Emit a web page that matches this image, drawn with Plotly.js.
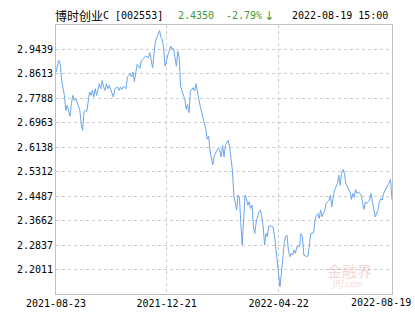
<!DOCTYPE html>
<html>
<head>
<meta charset="utf-8">
<script src="https://cdn.plot.ly/plotly-3.0.1.min.js"></script>
<style>html,body{margin:0;padding:0;background:#fff;}#chart{width:415px;height:330px;}</style>
</head>
<body>
<div id="chart"></div>
<script>
// trading-day index since 2021-08-23 (0 .. 240 = 2022-08-19)
var days = [0,2,3,4,6,7,8,10,11,12,13,14,15,16,17,18,19,20,21,22,23,24,25,26,27,28,29,30,31,32,33,34,35,36,37,38,40,41,42,44,45,46,47,48,50,51,52,53,54,55,56,58,60,61,62,64,65,66,67,69,70,71,72,74,75,76,77,78,80,81,82,83,84,86,87,88,89,90,91,92,93,94,95,96,98,99,100,101,102,103,105,106,107,108,109,110,111,112,113,114,115,116,117,118,119,120,121,123,124,125,126,127,128,129,130,131,132,133,134,135,136,137,138,139,140,141,142,143,145,146,147,148,149,150,151,152,154,155,156,157,158,159,160,161,162,163,164,165,166,167,168,169,170,171,172,174,175,176,177,179,180,181,182,184,185,186,187,188,189,190,192,193,195,196,197,198,199,201,202,203,204,205,206,207,208,210,211,212,213,214,215,216,218,219,220,221,222,224,225,226,227,228,230,231,232,233,234,236,237,238,239,240];
var nav = [2.8674,2.9068,2.8967,2.8395,2.7889,2.7384,2.7553,2.7182,2.7620,2.7889,2.7721,2.7788,2.7664,2.7495,2.7384,2.6946,2.6710,2.7327,2.7384,2.7351,2.7664,2.8001,2.7889,2.8058,2.7832,2.8115,2.7889,2.8081,2.8284,2.8115,2.8395,2.8169,2.8058,2.8284,2.8115,2.8226,2.8001,2.7832,2.8115,2.8169,2.8058,2.8169,2.8081,2.8193,2.8115,2.8506,2.8563,2.8620,2.8506,2.8674,2.8361,2.8934,2.8799,2.9068,2.9102,2.9213,2.9193,2.9159,2.9328,2.8823,2.9271,2.9719,2.9833,3.0079,2.9833,2.9776,2.9382,2.8876,2.9271,2.9382,2.9550,2.9439,2.9473,2.8876,2.9382,2.9159,2.8203,2.8034,2.7923,2.7755,2.7418,2.7586,2.7307,2.8034,2.8149,2.8034,2.8284,2.7923,2.7755,2.7529,2.7138,2.6913,2.6744,2.6407,2.6518,2.6013,2.5791,2.5548,2.5845,2.5969,2.6037,2.6104,2.6037,2.5811,2.6205,2.5811,2.6205,2.6374,2.6148,2.5757,2.5363,2.4521,2.4184,2.4016,2.4521,2.4464,2.3568,2.2837,2.3679,2.4521,2.4410,2.4184,2.4295,2.4073,2.4184,2.3453,2.3231,2.3621,2.3958,2.4016,2.3790,2.3453,2.2837,2.3231,2.3116,2.3477,2.3477,2.3453,2.3173,2.2779,2.2389,2.1994,2.1432,2.1883,2.2557,2.2894,2.3116,2.3173,2.2668,2.2442,2.2557,2.2500,2.2668,2.2557,2.2769,2.2793,2.3231,2.3116,2.2500,2.2442,2.2466,2.2894,2.3231,2.3251,2.3679,2.3847,2.3904,2.3736,2.4016,2.3790,2.4016,2.4241,2.4352,2.4521,2.4127,2.4464,2.4689,2.4915,2.5195,2.4858,2.5252,2.5387,2.5252,2.4915,2.4800,2.4632,2.4376,2.4578,2.4443,2.4713,2.4578,2.4632,2.4521,2.4295,2.4039,2.4295,2.4241,2.4352,2.4578,2.4295,2.4016,2.3790,2.4016,2.4295,2.4410,2.4352,2.4578,2.4747,2.4858,2.4920,2.5049,2.4350];

var xTickDays = [0, 79, 159];
var xTickLabels = ['2021-08-23', '2021-12-21', '2022-04-22'];
var lastDay = 240;
var lastLabel = '2022-08-19';
var yTicks = [2.2011, 2.2837, 2.3662, 2.4487, 2.5312, 2.6138, 2.6963, 2.7788, 2.8613, 2.9439];
var yRange = [2.1186, 3.0264];

var fundName = '博时创业';
var fundCode = 'C [002553]';
var lastNav = '2.4350';
var change = '-2.79%';
var arrow = '↓';
var stamp = '2022-08-19 15:00';

var mono = 'DejaVu Sans Mono, Liberation Mono, monospace';
var gridColor = '#cccccc';
var frameColor = '#c0c0c0';
var green = '#3c9a3c';
var wm = 'rgba(225,150,150,0.4)';

var trace = {
  x: days, y: nav, type: 'scatter', mode: 'lines',
  line: {color: '#6aa6ee', width: 1},
  hoverinfo: 'skip'
};

var L = 56, R = 392, T = 25, B = 294;
function px(x){ return (x - L) / (R - L); }
function py(y){ return (B - y) / (B - T); }

var annotations = [
  {text: fundName, x: px(53), y: py(15.5), xanchor: 'left', yanchor: 'middle', font: {family: 'Noto Sans CJK SC', size: 12, color: '#000'}},
  {text: fundCode, x: px(101), y: py(15.5), xanchor: 'left', yanchor: 'middle', font: {family: mono, size: 10, color: '#000'}},
  {text: lastNav, x: px(176), y: py(15.5), xanchor: 'left', yanchor: 'middle', font: {family: mono, size: 10, color: green}},
  {text: change, x: px(224), y: py(15.5), xanchor: 'left', yanchor: 'middle', font: {family: mono, size: 10, color: green}},
  {text: arrow, x: px(268.5), y: py(15.5), xanchor: 'center', yanchor: 'middle', font: {family: 'DejaVu Sans', size: 12, color: green}},
  {text: stamp, x: px(290), y: py(15.5), xanchor: 'left', yanchor: 'middle', font: {family: mono, size: 10, color: '#000'}},
  {text: lastLabel, x: px(413), y: py(302.5), xanchor: 'right', yanchor: 'middle', font: {family: mono, size: 10, color: '#000'}},
  {text: '金融界', x: px(349), y: py(270), xanchor: 'center', yanchor: 'middle', font: {family: 'Noto Sans CJK SC', size: 15, color: wm}},
  {text: '<i>JRJ.com</i>', x: px(347), y: py(284), xanchor: 'center', yanchor: 'middle', font: {family: 'DejaVu Sans', size: 8, color: wm}}
].map(function(a){ a.xref = 'paper'; a.yref = 'paper'; a.showarrow = false; return a; });

var layout = {
  width: 415, height: 330,
  margin: {l: L, r: 415 - R, t: T, b: 330 - B, pad: 0},
  paper_bgcolor: '#fff', plot_bgcolor: '#fff',
  showlegend: false,
  xaxis: {
    range: [0, lastDay], tickmode: 'array', tickvals: xTickDays, ticktext: xTickLabels,
    showgrid: true, gridcolor: gridColor, griddash: '3px,3px', gridwidth: 1,
    zeroline: false, showline: true, mirror: true, linecolor: frameColor, linewidth: 1,
    ticks: '', tickfont: {family: mono, size: 10, color: '#000'}, fixedrange: true
  },
  yaxis: {
    range: yRange, tickmode: 'array', tickvals: yTicks, ticktext: yTicks.map(function(v){return v.toFixed(4);}),
    showgrid: true, gridcolor: gridColor, griddash: '3px,3px', gridwidth: 1,
    zeroline: false, showline: true, mirror: true, linecolor: frameColor, linewidth: 1,
    ticks: '', tickfont: {family: mono, size: 10, color: '#000'}, fixedrange: true
  },
  annotations: annotations
};

Plotly.newPlot('chart', [trace], layout, {displayModeBar: false, staticPlot: true});
</script>
</body>
</html>
